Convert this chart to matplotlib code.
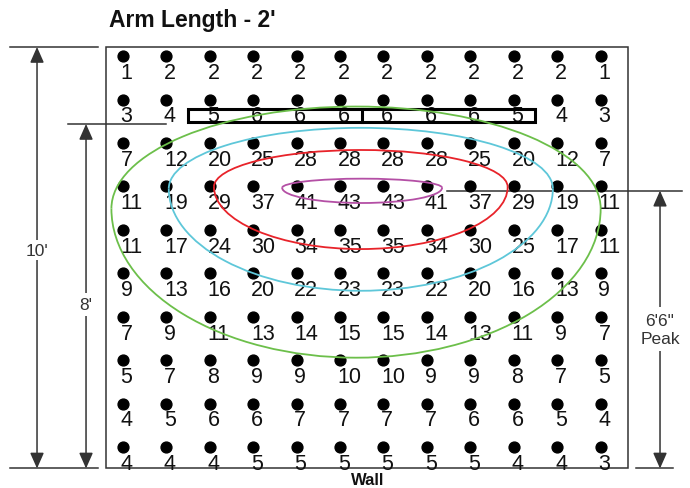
import numpy as np
import matplotlib
matplotlib.use("Agg")
import matplotlib.pyplot as plt
from matplotlib.patches import Arc, Rectangle

plt.rcParams['font.family'] = ['Liberation Sans', 'DejaVu Sans']

# readings at each grid point, top row first (12 columns x 10 rows)
readings = [
    [1, 2, 2, 2, 2, 2, 2, 2, 2, 2, 2, 1],
    [3, 4, 5, 6, 6, 6, 6, 6, 6, 5, 4, 3],
    [7, 12, 20, 25, 28, 28, 28, 28, 25, 20, 12, 7],
    [11, 19, 29, 37, 41, 43, 43, 41, 37, 29, 19, 11],
    [11, 17, 24, 30, 34, 35, 35, 34, 30, 25, 17, 11],
    [9, 13, 16, 20, 22, 23, 23, 22, 20, 16, 13, 9],
    [7, 9, 11, 13, 14, 15, 15, 14, 13, 11, 9, 7],
    [5, 7, 8, 9, 9, 10, 10, 9, 9, 8, 7, 5],
    [4, 5, 6, 6, 7, 7, 7, 7, 6, 6, 5, 4],
    [4, 4, 4, 5, 5, 5, 5, 5, 5, 4, 4, 3],
]

# contour rings (egg shaped: different upper / lower half heights)
ring_colors = ['#6cbf4a', '#5ec7d9', '#e8232a', '#b44fa5']
ring_cx = [5.37, 5.48, 5.48, 5.51]
ring_cy = [5.49, 5.95, 5.99, 5.97]
ring_rx = [5.63, 4.42, 3.38, 1.84]
ring_top = [2.35, 1.40, 0.85, 0.21]
ring_bot = [3.43, 2.35, 1.43, 0.35]

title = "Arm Length - 2'"
wall_label = "Wall"
left_dims = ["10'", "8'"]
peak_label = "6'6\"\nPeak"

arr = np.array(readings)
nrows, ncols = arr.shape

fig = plt.figure(figsize=(6.9, 4.89), dpi=100)
ax = fig.add_axes([0, 0, 1, 1])
ax.set_xlim(-2.824, 13.056)
ax.set_ylim(-0.939, 10.315)
ax.axis('off')

# room outline
ax.add_patch(Rectangle((-0.384, -0.49), 12.013, 9.701, fill=False,
                       edgecolor='#333333', lw=1.1, zorder=1))

# dots + numbers
cols, rows = np.meshgrid(np.arange(ncols), np.arange(nrows)[::-1])
ax.plot(cols.ravel(), rows.ravel(), 'o', color='black', ms=7.8, zorder=3)
for r in range(nrows):
    for c in range(ncols):
        ax.text(c - 0.05, (nrows - 1 - r) - 0.5, str(arr[r, c]),
                ha='left', va='baseline', fontsize=15.5, color='#111111', zorder=4)

# fixture bar
ax.add_patch(Rectangle((1.5, 7.484), 8.0, 0.3, fill=False,
                       edgecolor='black', lw=2.2, zorder=5))
ax.plot([5.5, 5.5], [7.484, 7.784], color='black', lw=2.2, zorder=5)

# rings
for col, cx, cy, rx, t, b in zip(ring_colors, ring_cx, ring_cy, ring_rx, ring_top, ring_bot):
    ax.add_patch(Arc((cx, cy), 2 * rx, 2 * t, theta1=0, theta2=180,
                     color=col, lw=1.3, zorder=6))
    ax.add_patch(Arc((cx, cy), 2 * rx, 2 * b, theta1=180, theta2=360,
                     color=col, lw=1.3, zorder=6))

# dimension lines
dim = '#333333'
ap = dict(arrowstyle='<|-|>,head_length=0.95,head_width=0.42', color=dim,
          lw=1.1, mutation_scale=10, shrinkA=0, shrinkB=0)
ax.plot([-2.594, -0.568], [9.211, 9.211], color=dim, lw=1.1)
ax.plot([-2.594, -0.568], [-0.49, -0.49], color=dim, lw=1.1)
ax.plot([-1.259, 0.997], [7.439, 7.439], color=dim, lw=1.1)
ax.annotate('', xy=(-1.972, -0.49), xytext=(-1.972, 9.211), arrowprops=ap)
ax.annotate('', xy=(-0.844, -0.49), xytext=(-0.844, 7.439), arrowprops=ap)
ax.text(-1.972, 4.537, left_dims[0], ha='center', va='center', fontsize=12.5,
        color=dim, bbox=dict(facecolor='white', edgecolor='none', pad=2))
ax.text(-0.844, 3.29, left_dims[1], ha='center', va='center', fontsize=12.5,
        color=dim, bbox=dict(facecolor='white', edgecolor='none', pad=3))

ax.plot([7.464, 12.872], [5.903, 5.903], color=dim, lw=1.1, zorder=2)
ax.plot([11.814, 12.665], [-0.49, -0.49], color=dim, lw=1.1)
ax.annotate('', xy=(12.366, -0.49), xytext=(12.366, 5.903), arrowprops=ap)
ax.text(12.366, 2.72, peak_label, ha='center', va='center', fontsize=12.5,
        color=dim, linespacing=1.25,
        bbox=dict(facecolor='white', edgecolor='none', pad=4))

ax.text(1.595, 9.70, title, ha='center', va='baseline', fontsize=16.5,
        fontweight='bold', color='#111111')
ax.text(5.63, -0.846, wall_label, ha='center', va='baseline', fontsize=12,
        fontweight='bold', color='#111111')

fig.savefig('out.png', dpi=100)
